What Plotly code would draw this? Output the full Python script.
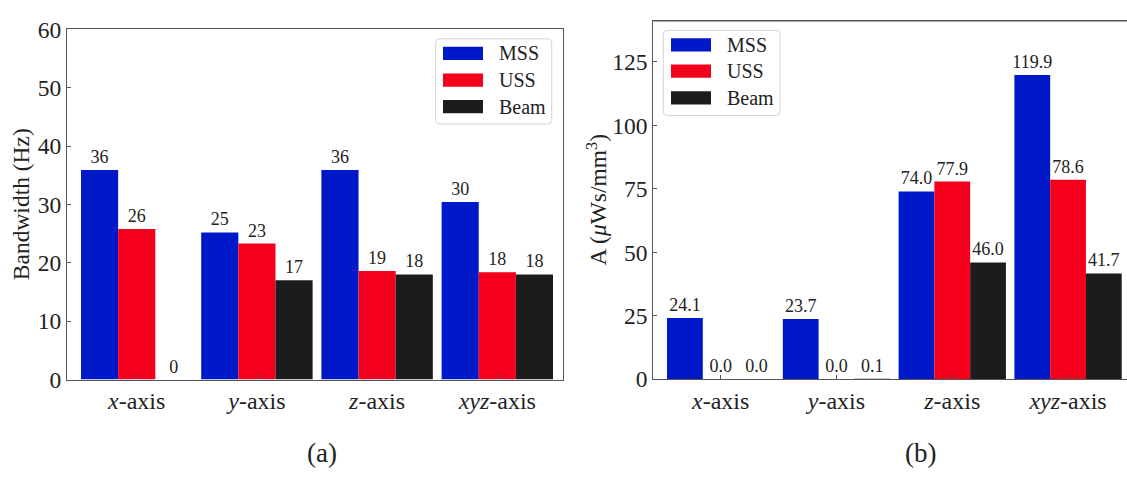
import plotly.graph_objects as go

# ---------------- data ----------------
categories = ["<i>x</i>-axis", "<i>y</i>-axis", "<i>z</i>-axis", "<i>xyz</i>-axis"]
series_names = ["MSS", "USS", "Beam"]

bandwidth_mss = [35.9, 25.2, 35.9, 30.4]
bandwidth_uss = [25.8, 23.3, 18.6, 18.4]
bandwidth_beam = [0.0, 17.0, 18.0, 18.0]

a_mss = [24.1, 23.7, 74.0, 119.9]
a_uss = [0.0, 0.0, 77.9, 78.6]
a_beam = [0.0, 0.1, 46.0, 41.7]

left_yticks = [0, 10, 20, 30, 40, 50, 60]
right_yticks = [0, 25, 50, 75, 100, 125]

left_ytitle = "Bandwidth (Hz)"
right_ytitle = "A (<i>μ</i>Ws/mm<sup>3</sup>)"
panel_labels = ["(a)", "(b)"]

colors = ["#0019c8", "#f5001c", "#1c1c1c"]

# ---------------- layout helpers ----------------
W, H = 1127, 487
FONT = '"Liberation Serif", "Times New Roman", Times, serif'
TXT = "#222222"
AXC = "#555555"


def px(xp):
    return xp / W


def py(yp):
    return 1 - yp / H


fig = go.Figure()

left_series = [bandwidth_mss, bandwidth_uss, bandwidth_beam]
right_series = [a_mss, a_uss, a_beam]

for name, vals, col in zip(series_names, left_series, colors):
    fig.add_trace(go.Bar(
        x=categories, y=vals, name=name, marker=dict(color=col, line=dict(width=0)),
        texttemplate="%{y:.0f}", textposition="outside", constraintext="none",
        cliponaxis=False, textfont=dict(family=FONT, size=18, color=TXT),
        xaxis="x", yaxis="y", showlegend=False, hoverinfo="skip"))

for name, vals, col in zip(series_names, right_series, colors):
    fig.add_trace(go.Bar(
        x=categories, y=vals, name=name, marker=dict(color=col, line=dict(width=0)),
        texttemplate="%{y:.1f}", textposition="outside", constraintext="none",
        cliponaxis=False, textfont=dict(family=FONT, size=18, color=TXT),
        xaxis="x2", yaxis="y2", showlegend=False, hoverinfo="skip"))

axis_common = dict(
    showline=True, linecolor=AXC, linewidth=1.3, mirror=True,
    ticks="inside", ticklen=4, tickwidth=1, tickcolor=AXC,
    showgrid=False, zeroline=False,
)
ytick_font = dict(family=FONT, size=23.5, color=TXT)
xtick_font = dict(family=FONT, size=24, color=TXT)

fig.update_layout(
    width=W, height=H, autosize=False,
    margin=dict(l=0, r=0, t=0, b=0),
    paper_bgcolor="white", plot_bgcolor="white",
    barmode="group", bargap=0.073, bargroupgap=0,
    font=dict(family=FONT, color=TXT),
    xaxis=dict(domain=[px(67), px(562.7)], anchor="y", type="category",
               range=[-0.58, 3.544], tickfont=xtick_font, **axis_common),
    yaxis=dict(domain=[py(387.2), py(17.3)], anchor="x", range=[0, 60],
               tickvals=left_yticks, tickfont=ytick_font, **axis_common),
    xaxis2=dict(domain=[px(653.3), 1.0], anchor="y2", type="category",
                range=[-0.582, 3.509], tickfont=xtick_font, **axis_common),
    yaxis2=dict(domain=[py(386.9), py(8.3)], anchor="x2", range=[0, 141.2],
                tickvals=right_yticks, tickfont=ytick_font,
                **{**axis_common, "mirror": False}),
)

# top spine for right panel (right spine is cut off by image edge)
fig.add_shape(type="line", xref="x2 domain", yref="y2 domain", x0=0, x1=1, y0=1, y1=1,
              line=dict(color=AXC, width=1.3))

annotations = []
shapes = []

annotations.append(dict(text=left_ytitle, x=px(21), y=py(202), xref="paper", yref="paper",
                        textangle=-90, showarrow=False, xanchor="center", yanchor="middle",
                        font=dict(family=FONT, size=23.5, color=TXT)))
annotations.append(dict(text=right_ytitle, x=px(597), y=py(197), xref="paper", yref="paper",
                        textangle=-90, showarrow=False, xanchor="center", yanchor="middle",
                        font=dict(family=FONT, size=23.5, color=TXT)))

for lab, xc in zip(panel_labels, [322, 920]):
    annotations.append(dict(text=lab, x=px(xc), y=py(465), xref="paper", yref="paper",
                            showarrow=False, xanchor="center", yanchor="middle",
                            font=dict(family=FONT, size=27, color=TXT)))


def rounded_rect(x0, y0, x1, y1, r):
    X0, X1 = px(x0), px(x1)
    Y0, Y1 = py(y0), py(y1)
    rx, ry = r / W, r / H
    return (f"M {X0+rx},{Y0} L {X1-rx},{Y0} Q {X1},{Y0} {X1},{Y0-ry} "
            f"L {X1},{Y1+ry} Q {X1},{Y1} {X1-rx},{Y1} "
            f"L {X0+rx},{Y1} Q {X0},{Y1} {X0},{Y1+ry} "
            f"L {X0},{Y0-ry} Q {X0},{Y0} {X0+rx},{Y0} Z")


def add_legend(bx0, by0, bx1, by1, sx0, sx1, row_centers, tx):
    shapes.append(dict(type="path", xref="paper", yref="paper",
                       path=rounded_rect(bx0, by0, bx1, by1, 4),
                       line=dict(color="#d4d4d4", width=1), fillcolor="rgba(255,255,255,0.85)"))
    for name, col, yc in zip(series_names, colors, row_centers):
        shapes.append(dict(type="rect", xref="paper", yref="paper",
                           x0=px(sx0), x1=px(sx1), y0=py(yc - 7), y1=py(yc + 7),
                           line=dict(width=0), fillcolor=col))
        annotations.append(dict(text=name, x=px(tx), y=py(yc), xref="paper", yref="paper",
                                showarrow=False, xanchor="left", yanchor="middle",
                                font=dict(family=FONT, size=20, color=TXT)))


add_legend(435.7, 27.3, 551.7, 117.3, 443, 483, [42.7, 71.0, 99.0], 497)
add_legend(663.3, 18.3, 780.0, 108.3, 671, 711, [33.7, 61.3, 89.7], 725)

for s in shapes:
    fig.add_shape(**s)
fig.update_layout(annotations=annotations)

POST = (
    "var d=document.getElementById('{plot_id}');"
    "d.style.position='fixed';d.style.top='0px';d.style.left='0px';d.style.margin='0px';"
    "document.documentElement.style.margin='0px';document.documentElement.style.padding='0px';"
    "document.documentElement.style.overflow='hidden';"
    "document.body.style.margin='0px';document.body.style.padding='0px';"
    "document.body.style.overflow='hidden';"
)

fig.write_html("out.html",
               config={"responsive": False, "displayModeBar": False},
               post_script=POST)
